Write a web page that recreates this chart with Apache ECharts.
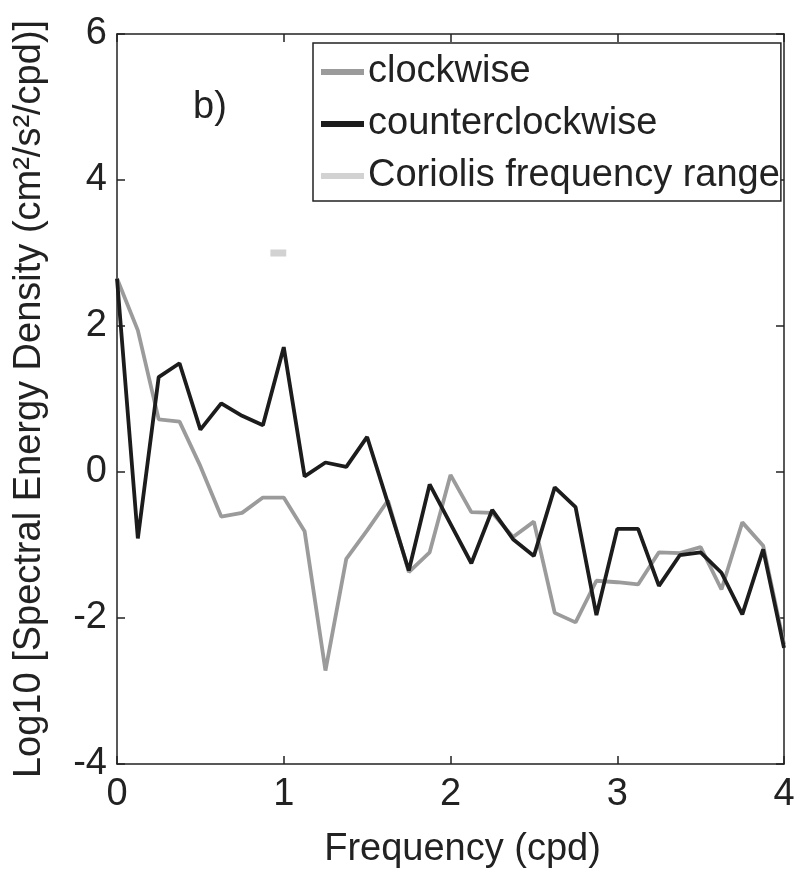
<!DOCTYPE html>
<html>
<head>
<meta charset="utf-8">
<script src="https://cdn.jsdelivr.net/npm/echarts@6/dist/echarts.min.js"></script>
<style>html,body{margin:0;padding:0;background:#fff;}#c{width:806px;height:875px;}</style>
</head>
<body>
<div id="c"></div>
<script>
var frequency = [0, 0.125, 0.25, 0.375, 0.5, 0.625, 0.75, 0.875, 1.0, 1.125, 1.25, 1.375, 1.5, 1.625, 1.75, 1.875, 2.0, 2.125, 2.25, 2.375, 2.5, 2.625, 2.75, 2.875, 3.0, 3.125, 3.25, 3.375, 3.5, 3.625, 3.75, 3.875, 4.0];
var clockwise = [2.65, 1.94, 0.72, 0.69, 0.08, -0.61, -0.56, -0.35, -0.35, -0.81, -2.72, -1.19, -0.8, -0.39, -1.37, -1.1, -0.04, -0.55, -0.56, -0.89, -0.68, -1.93, -2.06, -1.49, -1.51, -1.54, -1.1, -1.11, -1.03, -1.61, -0.69, -1.01, -2.36];
var counterclockwise = [2.65, -0.91, 1.3, 1.49, 0.58, 0.94, 0.77, 0.64, 1.71, -0.06, 0.13, 0.07, 0.48, -0.43, -1.35, -0.17, -0.71, -1.25, -0.52, -0.92, -1.15, -0.21, -0.48, -1.96, -0.78, -0.78, -1.56, -1.14, -1.1, -1.38, -1.95, -1.06, -2.41];
var coriolisRange = [0.92, 1.015];
var coriolisLevel = 3.0;
var xTicks = [0, 1, 2, 3, 4];
var yTicks = [-4, -2, 0, 2, 4, 6];
var seriesNames = ['clockwise', 'counterclockwise', 'Coriolis frequency range'];

function pairs(xs, ys) { return xs.map(function (x, i) { return [x, ys[i]]; }); }

var FONT = 'Liberation Sans';
var FS = 38;
var axisColor = '#222';

var chart = echarts.init(document.getElementById('c'), null, { renderer: 'canvas' });
var xBase = {
  type: 'value', min: xTicks[0], max: xTicks[xTicks.length - 1], interval: 1,
  splitLine: { show: false },
  axisLine: { show: true, onZero: false, lineStyle: { color: axisColor, width: 1.5 } },
  axisTick: { show: true, inside: true, length: 8, lineStyle: { color: axisColor, width: 1.5 } }
};
var yBase = {
  type: 'value', min: yTicks[0], max: yTicks[yTicks.length - 1], interval: 2,
  splitLine: { show: false },
  axisLine: { show: true, onZero: false, lineStyle: { color: axisColor, width: 1.5 } },
  axisTick: { show: true, inside: true, length: 8, lineStyle: { color: axisColor, width: 1.5 } }
};
var option = {
  animation: false,
  backgroundColor: '#fff',
  textStyle: { fontFamily: FONT },
  grid: { left: 117, right: 22, top: 34, bottom: 111, containLabel: false },
  xAxis: [
    Object.assign({}, xBase, {
      position: 'bottom',
      name: 'Frequency (cpd)', nameLocation: 'middle', nameGap: 67,
      nameTextStyle: { fontFamily: FONT, fontSize: FS, color: '#222', padding: [0, 0, 0, 24] },
      axisLabel: { show: true, margin: 12, fontFamily: FONT, fontSize: FS, color: '#222' }
    }),
    Object.assign({}, xBase, { position: 'top', axisLabel: { show: false } })
  ],
  yAxis: [
    Object.assign({}, yBase, {
      position: 'left',
      name: 'Log10 [Spectral Energy Density (cm\u00b2/s\u00b2/cpd)]', nameLocation: 'middle', nameGap: 68,
      nameTextStyle: { fontFamily: FONT, fontSize: FS, color: '#222' },
      axisLabel: { show: true, margin: 10, fontFamily: FONT, fontSize: FS, color: '#222' }
    }),
    Object.assign({}, yBase, { position: 'right', axisLabel: { show: false } })
  ],
  legend: {
    orient: 'vertical', left: 313, top: 43,
    data: seriesNames,
    icon: 'rect', itemWidth: 43, itemHeight: 6, itemGap: 12,
    padding: [9, 1, 5, 8],
    backgroundColor: '#fff', borderColor: '#222', borderWidth: 1.5, borderRadius: 0,
    textStyle: { fontFamily: FONT, fontSize: FS, color: '#222', lineHeight: 40, padding: [0, 0, 0, -1] }
  },
  graphic: [
    { type: 'text', left: 193, top: 89, style: { text: 'b)', font: FS + 'px "' + FONT + '"', fill: '#222' } }
  ],
  series: [
    {
      name: seriesNames[2], type: 'line', xAxisIndex: 0, yAxisIndex: 0,
      data: pairs(coriolisRange, [coriolisLevel, coriolisLevel]),
      showSymbol: false, symbol: 'none', color: '#d2d2d2',
      lineStyle: { color: '#d2d2d2', width: 7, cap: 'butt' }, z: 2
    },
    {
      name: seriesNames[0], type: 'line', xAxisIndex: 0, yAxisIndex: 0,
      data: pairs(frequency, clockwise),
      showSymbol: false, symbol: 'none', color: '#9b9b9b',
      lineStyle: { color: '#9b9b9b', width: 3.8 }, z: 3
    },
    {
      name: seriesNames[1], type: 'line', xAxisIndex: 0, yAxisIndex: 0,
      data: pairs(frequency, counterclockwise),
      showSymbol: false, symbol: 'none', color: '#1c1c1c',
      lineStyle: { color: '#1c1c1c', width: 3.8 }, z: 4
    }
  ]
};
chart.setOption(option);
</script>
</body>
</html>
